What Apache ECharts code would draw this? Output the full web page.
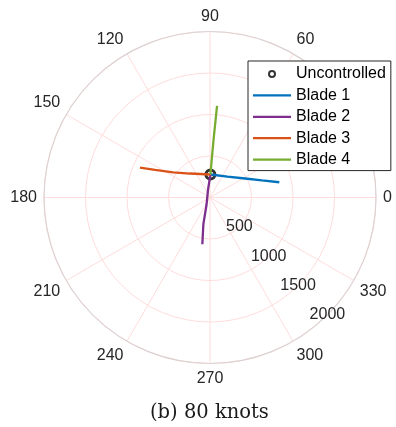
<!DOCTYPE html>
<html><head><meta charset="utf-8">
<script src="https://cdn.jsdelivr.net/npm/echarts@6/dist/echarts.min.js"></script>
<style>html,body{margin:0;padding:0;background:#fff}#c{width:396px;height:427px}</style>
</head><body><div id="c"></div>
<script>
// Data: [radius, angle(deg)]
const seriesNames = ['Uncontrolled', 'Blade 1', 'Blade 2', 'Blade 3', 'Blade 4'];
const uncontrolled = [[277, 89]];
const blade1 = [[277, 89], [328, 50.1], [480, 28.5], [659, 18.2], [855, 12.4]];
const blade2 = [[277, 89], [93, 105], [100, 245], [330, 256], [571, 260.7]];
const blade3 = [[277, 89], [376, 129.8], [539, 145.7], [741, 153.4], [917, 156.9]];
const blade4 = [[277, 89], [694, 86.5], [1106, 85.6]];
const angleMin = 0, angleMax = 360, angleStep = 30;
const radiusMin = 0, radiusMax = 2000, radiusStep = 500;
const titleText = '(b) 80 knots';

const colors = ['#000000', '#0072BD', '#7E2F8E', '#D95319', '#77AC30'];
const labelFont = 'Liberation Sans, Arial, Helvetica, sans-serif';
const center = [210, 197.5];
const R = 166;

const chart = echarts.init(document.getElementById('c'), null, {renderer: 'canvas'});
const lineSeries = [blade1, blade2, blade3, blade4].map((d, i) => ({
  name: seriesNames[i + 1],
  type: 'line',
  coordinateSystem: 'polar',
  polarIndex: 0,
  data: d,
  symbol: 'none',
  smooth: false,
  lineStyle: {color: colors[i + 1], width: 2.3},
  itemStyle: {color: colors[i + 1]},
  z: 3,
  animation: false
}));

const legendData = seriesNames.map((n, i) => i === 0
  ? {name: n, icon: 'emptyCircle', itemStyle: {color: '#000'}}
  : {name: n, icon: 'path://M0,0L38,0L38,2.3L0,2.3Z'});

chart.setOption({
  animation: false,
  title: {
    text: titleText,
    left: 145, top: 398,
    textStyle: {fontFamily: 'DejaVu Serif, serif', fontSize: 19.5, fontWeight: 'normal', color: '#1a1a1a'}
  },
  legend: {
    orient: 'vertical',
    left: 248, top: 61,
    padding: [5, 5, 3, 5],
    itemWidth: 38, itemHeight: 6, itemGap: 5.4, itemTextGap: 3,
    backgroundColor: '#fff',
    borderColor: '#262626', borderWidth: 1, borderRadius: 0,
    symbolKeepAspect: true,
    data: legendData,
    textStyle: {fontFamily: labelFont, fontSize: 16, color: '#000', lineHeight: 16}
  },
  polar: [
    {center: center, radius: R},
    {center: center, radius: R}
  ],
  angleAxis: [
    {
      polarIndex: 0, type: 'value', min: angleMin, max: angleMax, interval: angleStep,
      startAngle: 0, clockwise: false,
      axisLine: {show: true, lineStyle: {color: '#ddd2d2', width: 1.2}},
      axisTick: {show: false},
      splitLine: {show: true, lineStyle: {color: '#ffdcdc', width: 1}},
      axisLabel: {show: true, margin: 7, color: '#262626', fontFamily: labelFont, fontSize: 16,
        formatter: v => (v === angleMax ? '' : String(v))}
    },
    {
      polarIndex: 1, type: 'value', min: angleMin, max: angleMax, startAngle: -45, clockwise: false,
      show: false
    }
  ],
  radiusAxis: [
    {
      polarIndex: 0, type: 'value', min: radiusMin, max: radiusMax, interval: radiusStep,
      axisLine: {show: false}, axisTick: {show: false}, axisLabel: {show: false},
      splitLine: {show: true, lineStyle: {color: '#ffdcdc', width: 1}}
    },
    {
      polarIndex: 1, type: 'value', min: radiusMin, max: radiusMax, interval: radiusStep,
      axisLine: {show: false}, axisTick: {show: false}, splitLine: {show: false},
      axisLabel: {show: true, margin: 0, align: 'center', verticalAlign: 'middle',
        color: '#262626', fontFamily: labelFont, fontSize: 16, rotate: 0,
        formatter: v => (v === radiusMin ? '' : String(v))},
      z: 5
    }
  ],
  series: [
    {
      name: seriesNames[0], type: 'scatter', coordinateSystem: 'polar', polarIndex: 0,
      data: uncontrolled, symbol: 'circle', symbolSize: 9,
      itemStyle: {color: '#fff', borderColor: '#000', borderWidth: 3},
      z: 2
    }
  ].concat(lineSeries)
});
</script></body></html>
